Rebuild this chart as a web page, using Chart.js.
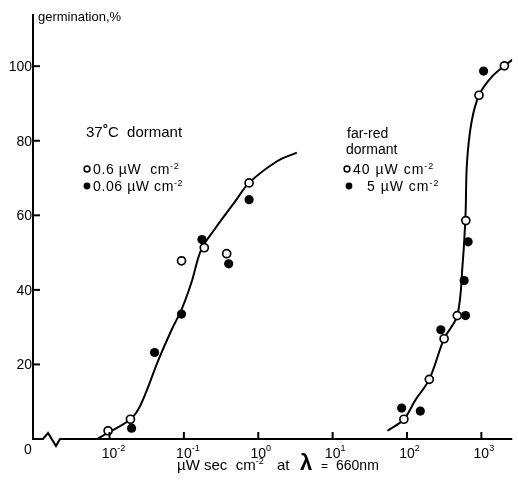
<!DOCTYPE html>
<html>
<head>
<meta charset="utf-8">
<title>germination</title>
<script src="https://cdn.jsdelivr.net/npm/chart.js@4/dist/chart.umd.min.js"></script>
<style>
  html, body { margin: 0; padding: 0; background: #fff; }
</style>
</head>
<body>
<canvas id="chart" width="518" height="481"></canvas>
<script>
// dose in µW sec cm-2, germination in %

// 37 °C dormant seeds
const warmOpenDose = [9.57e-3, 1.91e-2, 9.29e-2, 0.188, 0.376, 0.753]
const warmOpenGerm = [2.2, 5.3, 47.8, 51.3, 49.7, 68.7]
const warmFilledDose = [1.98e-2, 4.03e-2, 9.29e-2, 0.175, 0.400, 0.753]
const warmFilledGerm = [2.9, 23.2, 33.5, 53.5, 47.0, 64.2]
const warmCurveDose = [6.8e-3, 9.6e-3, 1.91e-2, 2.6e-2, 4.55e-2, 6.84e-2, 9.29e-2, 0.126, 0.171, 0.258, 0.476, 0.753, 1.79, 3.30]
const warmCurveGerm = [0, 1.7, 5.3, 9.0, 21.2, 29.3, 34.7, 41.9, 50.8, 56.2, 63.4, 68.7, 74.5, 76.8]

// far-red dormant seeds
const frOpenDose = [90.8, 199.5, 315.5, 474, 618, 929, 2040]
const frOpenGerm = [5.3, 16.0, 26.9, 33.1, 58.6, 92.2, 100.1]
const frFilledDose = [84.7, 151, 285, 612, 587, 664, 1072]
const frFilledGerm = [8.3, 7.5, 29.3, 33.1, 42.5, 52.9, 98.7]
const frCurveDose = [54.6, 90.8, 130, 199.5, 315.5, 474, 560, 612, 640, 736, 929, 1358, 2040, 2606]
const frCurveGerm = [2.2, 5.3, 10.5, 16.0, 26.9, 33.1, 47.0, 60.0, 74.0, 84.9, 92.2, 97.0, 100.1, 101.7]

// axes
const xMin = 9.35e-4
const xMax = 2606
const xTicks = [1e-2, 1e-1, 1, 10, 100, 1000]
const xTickExp = ["-2", "-1", "0", "1", "2", "3"]
const yTicks = [20, 40, 60, 80, 100]
const yMax = 114

const FONT = '"Liberation Sans", Arial, sans-serif'

const toPoints = (xs, ys) => xs.map((x, i) => ({ x: x, y: ys[i] }))

const openStyle = {
  pointRadius: 4,
  pointBackgroundColor: "#fff",
  pointBorderColor: "#000",
  pointBorderWidth: 1.7,
}
const filledStyle = {
  pointRadius: 4.6,
  pointBackgroundColor: "#000",
  pointBorderColor: "#000",
  pointBorderWidth: 0,
}
const curveStyle = {
  type: "line",
  showLine: true,
  pointRadius: 0,
  borderColor: "#000",
  borderWidth: 2,
  tension: 0.35,
  fill: false,
  order: 2,
}

// text made of pieces of different size / raise
function drawRich(ctx, x, y, parts, spacing) {
  let cx = x
  ctx.letterSpacing = (spacing || 0) + "px"
  parts.forEach(([t, size, raise, weight]) => {
    ctx.font = (weight || "normal") + " " + size + "px " + FONT
    ctx.fillText(t, cx, y - (raise || 0))
    cx += ctx.measureText(t).width
  })
  ctx.letterSpacing = "0px"
}

function legendDot(ctx, x, y, filled) {
  ctx.beginPath()
  ctx.arc(x, y, filled ? 3.4 : 2.9, 0, Math.PI * 2)
  if (filled) {
    ctx.fill()
  } else {
    ctx.lineWidth = 1.5
    ctx.stroke()
  }
}

const axesPlugin = {
  id: "axesPlugin",
  afterDraw(chart) {
    const ctx = chart.ctx
    const { left, right, top, bottom } = chart.chartArea
    const xs = chart.scales.x
    const ys = chart.scales.y
    ctx.save()
    ctx.strokeStyle = "#000"
    ctx.fillStyle = "#000"
    ctx.lineWidth = 2

    // y axis
    ctx.beginPath()
    ctx.moveTo(left, top)
    ctx.lineTo(left, bottom + 1)
    ctx.stroke()

    // x axis with the break after 0
    ctx.beginPath()
    ctx.moveTo(left - 1, bottom)
    ctx.lineTo(left + 10, bottom)
    ctx.lineTo(left + 15, bottom - 6)
    ctx.lineTo(left + 23, bottom + 7)
    ctx.lineTo(left + 27, bottom)
    ctx.lineTo(right, bottom)
    ctx.stroke()

    // y ticks + labels
    ctx.textAlign = "right"
    ctx.textBaseline = "middle"
    ctx.font = "14px " + FONT
    yTicks.forEach((v) => {
      const py = ys.getPixelForValue(v)
      ctx.beginPath()
      ctx.moveTo(left, py)
      ctx.lineTo(left + 7, py)
      ctx.stroke()
      ctx.fillText(String(v), left - 1, py + 1)
    })
    ctx.textAlign = "center"
    ctx.fillText("0", left - 5, bottom + 11)

    // x ticks + labels
    ctx.textBaseline = "alphabetic"
    xTicks.forEach((v, i) => {
      const px = xs.getPixelForValue(v)
      ctx.beginPath()
      ctx.moveTo(px, bottom)
      ctx.lineTo(px, bottom - 7)
      ctx.stroke()
      ctx.textAlign = "center"
      ctx.font = "14px " + FONT
      ctx.fillText("10", px, bottom + 19)
      const w = ctx.measureText("10").width
      ctx.textAlign = "left"
      ctx.font = "9px " + FONT
      ctx.fillText(xTickExp[i], px + w / 2, bottom + 12)
    })

    ctx.textAlign = "left"
    // axis titles
    drawRich(ctx, left + 5, 21, [["germination,%", 13]])
    drawRich(ctx, 177, 470, [["µW sec  cm", 15], ["-2", 9, 6]])
    drawRich(ctx, 277, 470, [["at", 15]])
    drawRich(ctx, 300, 470, [["λ", 22, 0, "bold"]])
    drawRich(ctx, 321, 470, [["=", 12]])
    drawRich(ctx, 336, 470, [["660nm", 14]])

    // group labels
    drawRich(ctx, 86, 137, [["37", 15], ["°", 13, 4, "bold"], ["C  dormant", 15]])
    legendDot(ctx, 87, 169, false)
    drawRich(ctx, 93, 174, [["0.6 µW  cm", 14], ["-2", 9, 5]], 0.6)
    legendDot(ctx, 87, 186, true)
    drawRich(ctx, 93, 191, [["0.06 µW cm", 14], ["-2", 9, 5]], 0.6)

    drawRich(ctx, 347, 138, [["far-red", 14]])
    drawRich(ctx, 346, 154, [["dormant", 14]])
    legendDot(ctx, 347, 169, false)
    drawRich(ctx, 353, 174, [["40 µW cm", 14], ["-2", 9, 5]], 1)
    legendDot(ctx, 349, 186, true)
    drawRich(ctx, 367, 191, [["5 µW cm", 14], ["-2", 9, 5]], 1)

    ctx.restore()
  },
}

new Chart(document.getElementById("chart"), {
  type: "scatter",
  data: {
    datasets: [
      { label: "0.6 µW cm-2", data: toPoints(warmOpenDose, warmOpenGerm), ...openStyle, order: 0 },
      { label: "0.06 µW cm-2", data: toPoints(warmFilledDose, warmFilledGerm), ...filledStyle, order: 1 },
      { label: "40 µW cm-2", data: toPoints(frOpenDose, frOpenGerm), ...openStyle, order: 0 },
      { label: "5 µW cm-2", data: toPoints(frFilledDose, frFilledGerm), ...filledStyle, order: 1 },
      { label: "37 °C curve", data: toPoints(warmCurveDose, warmCurveGerm), ...curveStyle },
      { label: "far-red curve", data: toPoints(frCurveDose, frCurveGerm), ...curveStyle },
    ],
  },
  options: {
    responsive: false,
    animation: false,
    layout: { padding: { left: 33, right: 0, top: 14, bottom: 42 } },
    plugins: {
      legend: { display: false },
      tooltip: { enabled: false },
    },
    scales: {
      x: { type: "logarithmic", min: xMin, max: xMax, display: false },
      y: { type: "linear", min: 0, max: yMax, display: false },
    },
  },
  plugins: [axesPlugin],
})
</script>
</body>
</html>
